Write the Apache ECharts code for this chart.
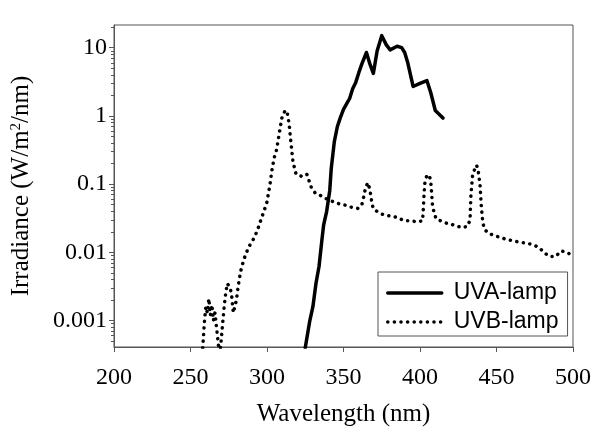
<!DOCTYPE html>
<html>
<head>
<meta charset="utf-8">
<script src="https://cdn.jsdelivr.net/npm/echarts@6/dist/echarts.min.js"></script>
<style>html,body{margin:0;padding:0;background:#fff}#c{width:600px;height:434px}</style>
</head>
<body>
<div id="c"></div>
<script>
var seriesNames = ['UVA-lamp', 'UVB-lamp'];
var xTicks = [200, 250, 300, 350, 400, 450, 500];
var yTicks = [0.001, 0.01, 0.1, 1, 10];
var yMinorTicks = [0.0005,0.0006,0.0007,0.0008,0.0009,0.002,0.003,0.004,0.005,0.006,0.007,0.008,0.009,0.02,0.03,0.04,0.05,0.06,0.07,0.08,0.09,0.2,0.3,0.4,0.5,0.6,0.7,0.8,0.9,2,3,4,5,6,7,8,9,20];

var uvaWl  = [325,328,330,332,334,336,337,339,341,342,344,346,348,350,352,354,356,358,360,362,365,367,369.5,372,375,378,380.5,385,388,390,392,395.5,400,404.5,407,410,415];
var uvaVal = [0.0004,0.001,0.0016,0.0035,0.0062,0.016,0.025,0.04,0.08,0.17,0.42,0.7,0.95,1.25,1.5,1.8,2.5,3.1,4.3,5.8,8.5,6,4.2,9,15,11,9.3,10.5,10,8.5,6,2.7,3.0,3.3,2.2,1.2,0.93];

var uvbWl  = [258,259,260,261,262,263,264,265,266,267,268,269,270,271,272,273,274,275,276,277,278,279,280,281,282,283,284,285,287,288,290,292,294,296,298,300,301,302,303,304,305,306,307,308,309,310,311.5,313,314.5,316,317,319,322.5,326,329,331.5,335,340,347.5,351.5,355,359.5,362,363,364.5,366,367.3,368.4,369.4,373,377,381.5,386,389.5,394,398,401.7,402.2,402.7,403.2,404.3,406,407,407.6,408.2,409.3,410.5,415,419,423,427,431,432.7,433.3,434.3,435.5,437,438.1,439.2,440,441,442,444.7,449,452.7,457,461,465.4,469.3,473.6,477.8,481,484.5,488.7,492.2,496.3,500];
var uvbVal = [0.0004,0.0009,0.0016,0.0013,0.0021,0.0012,0.0017,0.001,0.0013,0.0008,0.0005,0.0003,0.0005,0.0009,0.0016,0.0025,0.0035,0.0037,0.003,0.0022,0.0013,0.0016,0.002,0.003,0.0042,0.0055,0.0067,0.008,0.0105,0.012,0.014,0.017,0.022,0.03,0.04,0.055,0.075,0.1,0.15,0.2,0.26,0.3,0.4,0.55,0.75,1.0,1.15,1.2,0.75,0.34,0.21,0.14,0.13,0.14,0.089,0.074,0.068,0.059,0.051,0.049,0.046,0.044,0.05,0.062,0.09,0.105,0.082,0.056,0.044,0.038,0.035,0.034,0.032,0.029,0.029,0.028,0.029,0.045,0.075,0.105,0.13,0.137,0.11,0.074,0.047,0.038,0.031,0.028,0.026,0.025,0.023,0.024,0.03,0.07,0.13,0.16,0.19,0.153,0.1,0.05,0.028,0.022,0.019,0.0175,0.0165,0.0153,0.0148,0.014,0.0137,0.013,0.0118,0.01,0.0087,0.0087,0.0105,0.01,0.0087];

function pairs(xs, ys) { return xs.map(function (x, i) { return [x, ys[i]]; }); }

var serif = '"Liberation Serif", "Times New Roman", serif';
var sans = '"Liberation Sans", Arial, sans-serif';
var yMin = 0.00041, yMax = 21.5;
var dotDash = [0.1, 6.5];

function fmtY(v) {
  var e = Math.round(Math.log10(v));
  if (Math.abs(Math.log10(v) - e) > 1e-6) return '';
  return e < 0 ? Math.pow(10, e).toFixed(-e) : String(Math.pow(10, e));
}

var chart = echarts.init(document.getElementById('c'), null, { renderer: 'canvas' });
chart.setOption({
  animation: false,
  backgroundColor: '#fff',
  grid: { left: 114, right: 27, top: 25, bottom: 87, show: true, borderColor: '#555', borderWidth: 1, backgroundColor: 'transparent' },
  legend: {
    orient: 'vertical', left: 378, top: 272,
    data: [
      { name: seriesNames[0], lineStyle: { width: 3.5, type: 'solid' } },
      { name: seriesNames[1], lineStyle: { width: 3.5, type: dotDash, cap: 'round' } }
    ],
    itemWidth: 54, itemHeight: 14, itemGap: 3,
    padding: [8, 9, 1, 8],
    borderColor: '#555', borderWidth: 1, backgroundColor: '#fff',
    itemStyle: { opacity: 0, borderWidth: 0 },
    lineStyle: { width: 3.5 },
    textStyle: { fontFamily: sans, fontSize: 23, color: '#000', lineHeight: 26, padding: [0, 0, 0, 7] }
  },
  xAxis: {
    type: 'value', min: 200, max: 500, interval: 50,
    name: 'Wavelength (nm)', nameLocation: 'middle', nameGap: 55,
    nameTextStyle: { fontFamily: serif, fontSize: 25, color: '#000' },
    axisLine: { lineStyle: { color: '#555', width: 1 } },
    axisTick: { length: 5, lineStyle: { color: '#555' }, customValues: xTicks },
    axisLabel: { fontFamily: serif, fontSize: 24, color: '#000', margin: 19, customValues: xTicks },
    splitLine: { show: false }
  },
  yAxis: [{
    type: 'log', logBase: 10, min: yMin, max: yMax,
    name: '{a|Irradiance (W/m}{s|2}{a|/nm)}', nameLocation: 'middle', nameGap: 80,
    nameTextStyle: { fontFamily: serif, fontSize: 25, color: '#000',
      rich: { a: { fontFamily: serif, fontSize: 25, color: '#000' },
              s: { fontFamily: serif, fontSize: 15, color: '#000', verticalAlign: 'top', padding: [0, 0, 10, 0] } } },
    axisLine: { show: true, lineStyle: { color: '#555', width: 1 } },
    axisTick: { show: true, length: 5, lineStyle: { color: '#555' }, customValues: yTicks },
    axisLabel: { fontFamily: serif, fontSize: 24, color: '#000', margin: 7, customValues: yTicks, formatter: fmtY },
    splitLine: { show: false }
  }, {
    type: 'log', logBase: 10, min: yMin, max: yMax, position: 'left',
    axisLine: { show: false },
    axisTick: { show: true, length: 3, lineStyle: { color: '#555' }, customValues: yMinorTicks },
    axisLabel: { show: false },
    splitLine: { show: false }
  }],
  series: [{
    name: seriesNames[0], type: 'line', showSymbol: false, symbol: 'none',
    data: pairs(uvaWl, uvaVal),
    lineStyle: { color: '#000', width: 3.5, join: 'round', cap: 'round' },
    itemStyle: { color: '#000' }
  }, {
    name: seriesNames[1], type: 'line', showSymbol: false, symbol: 'none',
    data: pairs(uvbWl, uvbVal),
    lineStyle: { color: '#000', width: 3.5, type: dotDash, cap: 'round', join: 'round' },
    itemStyle: { color: '#000' }
  }]
});
</script>
</body>
</html>
